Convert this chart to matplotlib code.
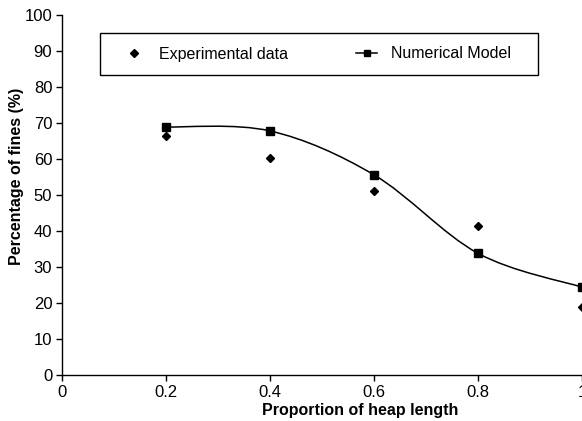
import matplotlib
matplotlib.use('Agg')

import numpy as np
import matplotlib.pyplot as plt
from matplotlib.path import Path
from matplotlib.patches import PathPatch, Rectangle
from matplotlib.lines import Line2D

plt.rcParams['font.family'] = ['Liberation Sans', 'DejaVu Sans']

# =========================
# DATA
# =========================
proportion = [0.2, 0.4, 0.6, 0.8, 1.0]
experimental = [66.5, 60.4, 51.2, 41.5, 18.8]
numerical = [68.9, 67.8, 55.6, 33.8, 24.4]

x_ticks = [0, 0.2, 0.4, 0.6, 0.8, 1]
x_ticklabels = ["0", "0.2", "0.4", "0.6", "0.8", "1"]
y_ticks = list(range(0, 101, 10))


# =========================
# HELPER: Excel-like smoothed line (Catmull-Rom as bezier)
# =========================
def smooth_path(xs, ys):
    pts = np.column_stack([xs, ys])
    n = len(pts)
    verts = [pts[0]]
    codes = [Path.MOVETO]
    for i in range(n - 1):
        p0 = pts[i - 1] if i > 0 else pts[i]
        p1 = pts[i]
        p2 = pts[i + 1]
        p3 = pts[i + 2] if i + 2 < n else pts[i + 1]
        c1 = p1 + (p2 - p0) / 6.0
        c2 = p2 - (p3 - p1) / 6.0
        verts += [c1, c2, p2]
        codes += [Path.CURVE4] * 3
    return Path(verts, codes)


fig = plt.figure(figsize=(5.82, 4.21), dpi=100)
ax = fig.add_axes([62 / 582, 1 - 375 / 421, 520 / 582, 360 / 421])

ax.add_patch(PathPatch(smooth_path(proportion, numerical), facecolor="none",
                       edgecolor="black", linewidth=1.1, clip_on=False))
ax.plot(proportion, numerical, linestyle="none", marker="s", markersize=6,
        color="black", clip_on=False)
ax.plot(proportion, experimental, linestyle="none", marker="D", markersize=4,
        color="black", clip_on=False)

ax.set_xlim(0, 1)
ax.set_ylim(0, 100)
ax.set_xticks(x_ticks)
ax.set_xticklabels(x_ticklabels)
ax.set_yticks(y_ticks)
ax.tick_params(direction="out", length=4, width=1, labelsize=12, colors="black", pad=3)

for side in ["top", "right"]:
    ax.spines[side].set_visible(False)
for side in ["left", "bottom"]:
    ax.spines[side].set_linewidth(1)

ax.set_xlabel("Proportion of heap length", fontsize=11.5, fontweight="bold")
ax.set_ylabel("Percentage of fines (%)", fontsize=11.5, fontweight="bold")
ax.xaxis.set_label_coords((360 - 62) / 520, (375 - 403) / 360)
ax.yaxis.set_label_coords((24 - 62) / 520, (375 - 176) / 360)

# legend frame drawn by hand, entries placed inside
ax.add_patch(Rectangle((38 / 520, (375 - 75) / 360), 438 / 520, 42 / 360,
                       transform=ax.transAxes, facecolor="white", edgecolor="black",
                       linewidth=1, clip_on=False, zorder=4))
handles = [
    Line2D([], [], linestyle="none", marker="D", markersize=4, color="black"),
    Line2D([], [], linestyle="-", marker="s", markersize=5, color="black", linewidth=1.1),
]
leg = ax.legend(handles, ["Experimental data", "Numerical Model"], ncol=2,
                loc="center left", bbox_to_anchor=((123.5 - 62) / 520, (375 - 54) / 360),
                fontsize=11.5, frameon=False, borderpad=0, borderaxespad=0,
                handlelength=1.3, handletextpad=0.9, columnspacing=4.3)
leg.set_zorder(5)

fig.savefig("out.png", dpi=100)
